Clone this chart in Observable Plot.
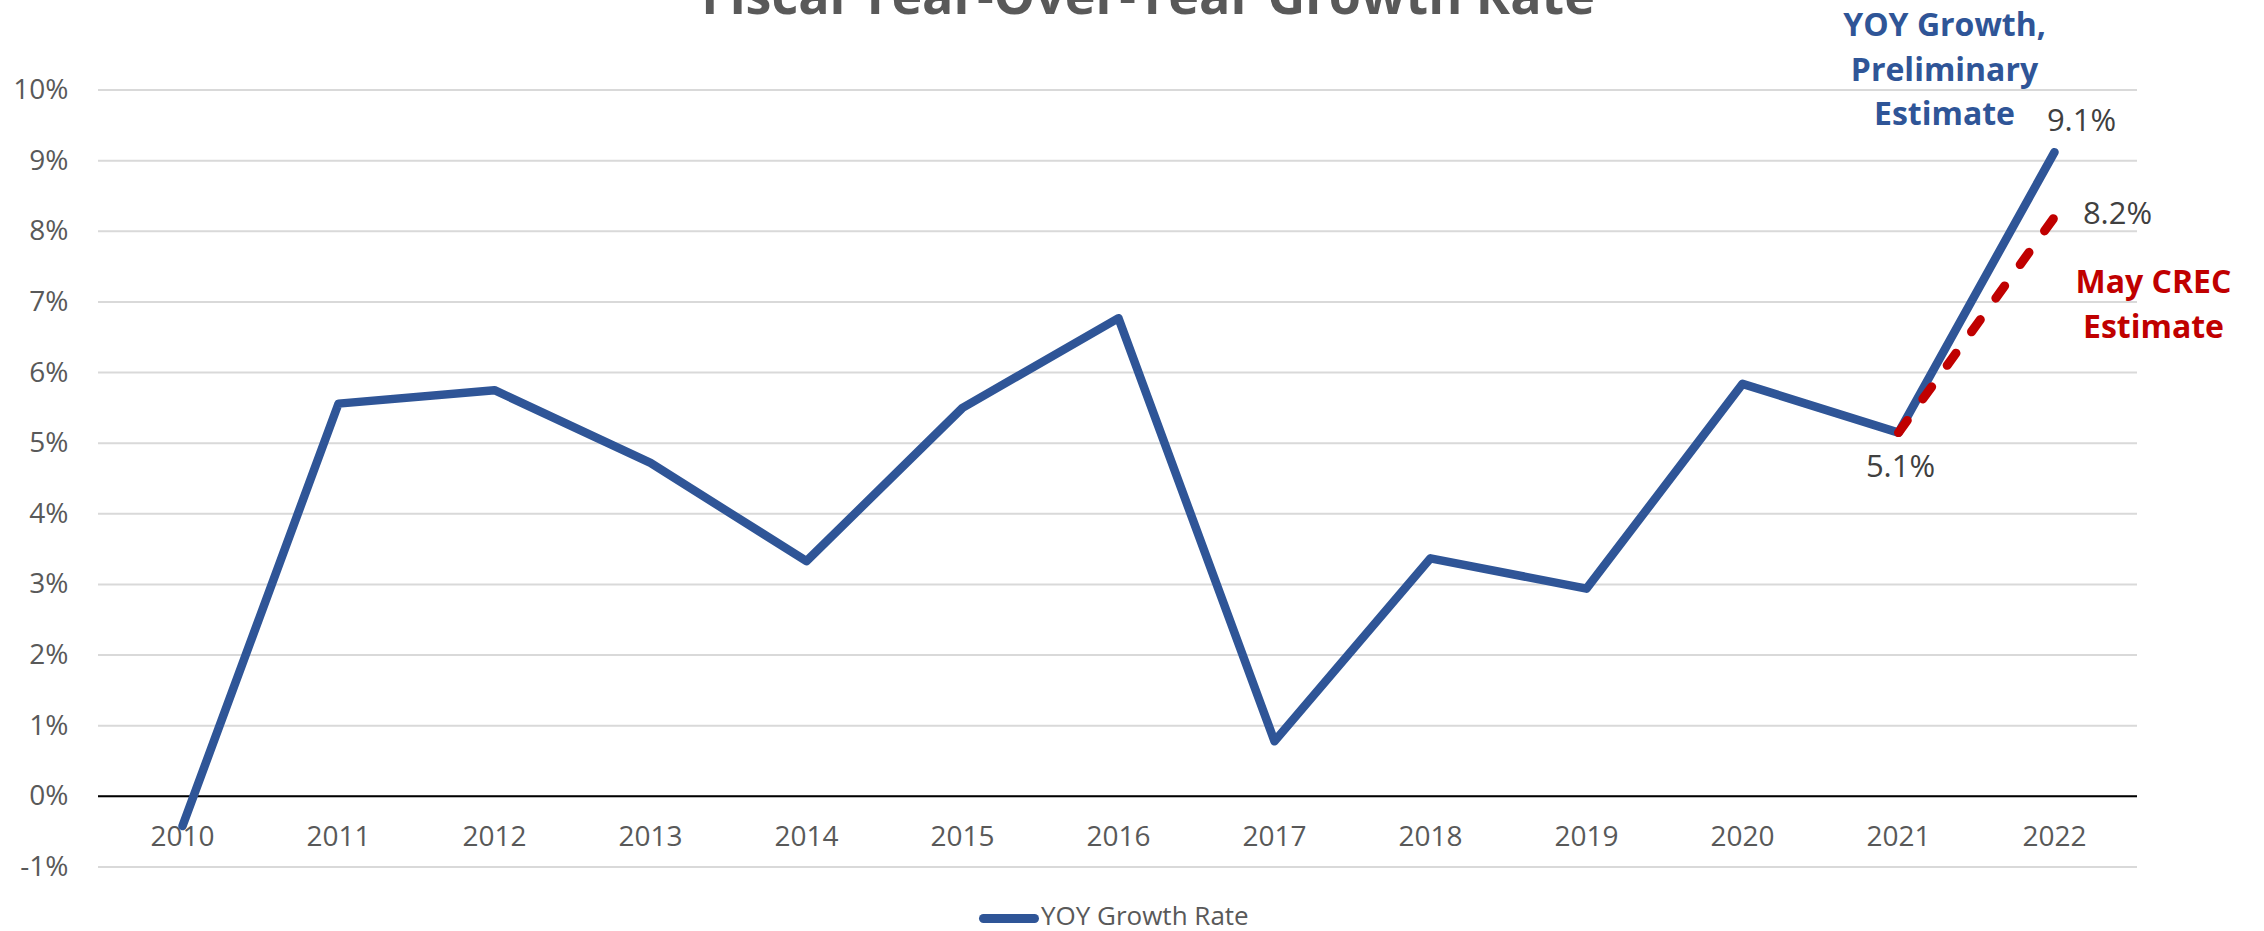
<!DOCTYPE html>
<html>
<head>
<meta charset="utf-8">
<script src="https://cdn.jsdelivr.net/npm/d3@7"></script>
<script src="https://cdn.jsdelivr.net/npm/@observablehq/plot@0.6"></script>
<style>
  html, body { margin: 0; padding: 0; background: #fff; overflow: hidden; }
  #wrap { position: relative; width: 2264px; height: 931px; font-family: "Open Sans", sans-serif; }
  #title { position: absolute; left: 1148px; top: -32px; transform: translateX(-50%); white-space: nowrap;
           font-size: 52px; line-height: 52px; font-weight: 700; color: #595959; }
  #legend { position: relative; width: 2264px; height: 41px; }
  #legend .sw { position: absolute; left: 979px; top: 23.5px; width: 60px; height: 9px; border-radius: 4.5px; background: #2F5597; }
  #legend .lb { position: absolute; left: 1041px; top: 12px; font-size: 26px; line-height: 26px; color: #595959; white-space: nowrap; }
</style>
</head>
<body>
<div id="wrap">
  <div id="chart"></div>
  <div id="legend"><div class="sw"></div><div class="lb">YOY Growth Rate</div></div>
  <div id="title">Fiscal Year-Over-Year Growth Rate</div>
</div>
<script>
// ---- data ----
const years = [2010, 2011, 2012, 2013, 2014, 2015, 2016, 2017, 2018, 2019, 2020, 2021, 2022];
const yoyGrowth = [-0.42, 5.56, 5.75, 4.72, 3.33, 5.50, 6.77, 0.78, 3.37, 2.94, 5.84, 5.15, 9.12];
const crecYears = [2021, 2022];
const crecGrowth = [5.15, 8.2];
const yTicks = [-1, 0, 1, 2, 3, 4, 5, 6, 7, 8, 9, 10];
const valueLabelYears = [2022, 2022, 2021];
const valueLabelValues = [9.12, 8.2, 5.15];
const valueLabelTexts = ["9.1%", "8.2%", "5.1%"];
const blueNote = "YOY Growth,\nPreliminary\nEstimate";
const redNote = "May CREC\nEstimate";

const yoy = years.map((y, i) => ({year: y, value: yoyGrowth[i]}));
const crec = crecYears.map((y, i) => ({year: y, value: crecGrowth[i]}));
const vlabels = valueLabelYears.map((y, i) => ({year: y, value: valueLabelValues[i], text: valueLabelTexts[i]}));
const labelOffsets = [[27, -31], [63, -3], [2, 34]];

const chart = Plot.plot({
  width: 2264,
  height: 890,
  marginTop: 89.5,
  marginBottom: 23.5,
  marginLeft: 98,
  marginRight: 127,
  style: {fontFamily: "Open Sans, sans-serif", color: "#595959", background: "#fff", overflow: "visible"},
  x: {type: "point", domain: years, padding: 0.5, axis: null},
  y: {domain: [-1, 10], axis: null},
  marks: [
    Plot.ruleY(yTicks, {stroke: "#d9d9d9", strokeWidth: 2}),
    Plot.ruleY([0], {stroke: "#000", strokeWidth: 2}),
    Plot.text(yTicks, {y: d => d, frameAnchor: "left", text: d => d + "%", textAnchor: "end", dx: -30, fontSize: 28, fill: "#595959"}),
    Plot.text(years, {x: d => d, y: d => 0, text: d => String(d), dy: 41, fontSize: 28, fill: "#595959"}),
    Plot.line(yoy, {x: "year", y: "value", stroke: "#2F5597", strokeWidth: 8.5, strokeLinejoin: "round", strokeLinecap: "round"}),
    Plot.line(crec, {x: "year", y: "value", stroke: "#C00000", strokeWidth: 9, strokeDasharray: "15 26.5", strokeLinecap: "round"}),
    ...vlabels.map((d, i) => Plot.text([d], {x: "year", y: "value", text: "text", dx: labelOffsets[i][0], dy: labelOffsets[i][1], fontSize: 31, fill: "#404040"})),
    Plot.text([yoy[yoy.length - 1]], {x: "year", y: "value", text: d => blueNote, dx: -110, dy: -86, fontSize: 32, fontWeight: 700, lineHeight: 1.4, fill: "#2F5597"}),
    Plot.text([crec[crec.length - 1]], {x: "year", y: "value", text: d => redNote, dx: 99, dy: 84, fontSize: 32, fontWeight: 700, lineHeight: 1.4, fill: "#C00000"})
  ]
});
document.getElementById("chart").appendChild(chart);
</script>
</body>
</html>
